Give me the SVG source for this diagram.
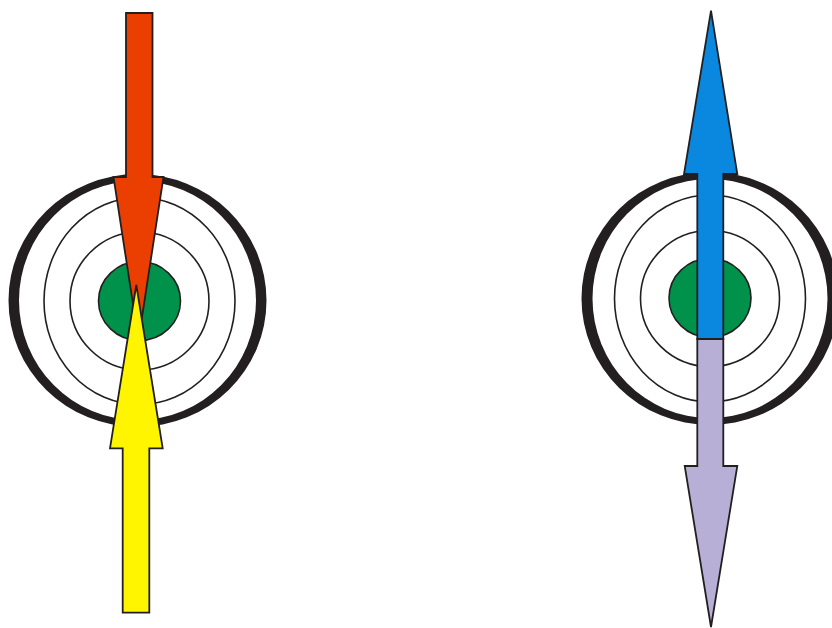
<svg xmlns="http://www.w3.org/2000/svg" width="832" height="628" viewBox="0 0 832 628">
<style>
.ring{fill:none;stroke:#231F20;stroke-width:1.6}
.thick{fill:#231F20;fill-rule:evenodd;stroke:none}
.core{fill:#00924A;stroke:#231F20;stroke-width:1.6}
.arrow{stroke:#231F20;stroke-width:1.8;stroke-linejoin:miter}
</style>
<rect width="832" height="628" fill="#FFFFFF"/>
<g id="target-left">
<path class="thick" d="M8.5,300.5 a129,126.5 0 1,0 258,0 a129,126.5 0 1,0 -258,0 Z M19,300.5 a118.5,119.5 0 1,0 237,0 a118.5,119.5 0 1,0 -237,0 Z"/>
<ellipse class="ring" cx="139.5" cy="301" rx="95.5" ry="103.5"/>
<ellipse class="ring" cx="139.5" cy="301" rx="69.5" ry="69"/>
<ellipse class="core" cx="139.5" cy="301" rx="41" ry="39.5"/>
</g>
<g id="target-right">
<path class="thick" d="M581.5,298.5 a128.5,126.5 0 1,0 257,0 a128.5,126.5 0 1,0 -257,0 Z M592.5,298.5 a117.5,119.5 0 1,0 235,0 a117.5,119.5 0 1,0 -235,0 Z"/>
<ellipse class="ring" cx="710" cy="298.5" rx="95.5" ry="103.5"/>
<ellipse class="ring" cx="710" cy="298.5" rx="69.5" ry="68"/>
<ellipse class="core" cx="710" cy="298" rx="41" ry="39.5"/>
</g>
<g id="connectors">
<g id="arrow-red">
<polygon class="arrow" fill="#EA3F00" points="126,13 152.5,13 152.5,177 163.5,177 138.5,340 113.5,177 126,177"/>
</g>
<g id="arrow-yellow">
<polygon class="arrow" fill="#FFF500" points="122.7,612.7 149.3,612.7 149.3,448.3 162.7,448.3 136.3,285 110,448.3 122.7,448.3"/>
</g>
<g id="arrow-blue">
<polygon class="arrow" fill="#0A88DF" points="697.3,339 697.3,174 684,174 711,10.7 737.3,174 723.3,174 723.3,339"/>
</g>
<g id="arrow-lavender">
<polygon class="arrow" fill="#B8AFD6" points="697.3,339 723.3,339 723.3,466 737.3,466 711,627 684.7,466 697.3,466"/>
</g>
</g>
</svg>
